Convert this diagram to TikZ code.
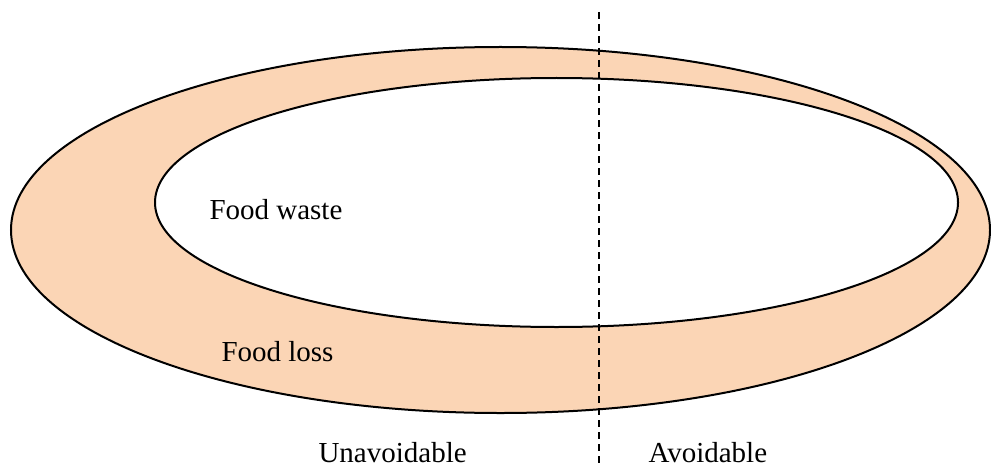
\documentclass[tikz,border=0pt]{standalone}
\usepackage{fontspec}
\setmainfont{Liberation Serif}
\usepackage{tikz}
\usetikzlibrary{positioning}
\definecolor{lossfill}{RGB}{251,213,181}

\begin{document}
\begin{tikzpicture}[x=0.4pt, y=-0.4pt]
                \tikzstyle{outline} = [line width=0.8pt, draw=black]
                \tikzstyle{divider} = [line width=0.6pt, dash pattern=on 2.8pt off 2pt]
                \tikzstyle{label} = [inner sep=0pt, anchor=base west, font=\fontsize{11.6}{14}\selectfont]
                \useasboundingbox (0,0) rectangle (991,466);

                % loss ring and waste core
                \draw [outline, fill=lossfill] (500.5,230) ellipse [x radius=489.5, y radius=183];
                \draw [outline, fill=white] (556.5,202.5) ellipse [x radius=401.5, y radius=124.5];

                \coordinate (dividertop) at (599,12);
                \coordinate (dividerbottom) at (599,466);
                \draw [divider] (dividertop) -- (dividerbottom);

                \node (waste) [label] at (209,219) {Food waste};
                \node (loss) [label] at (221,361) {Food loss};
                \node (unavoidable) [label] at (318,462) {Unavoidable};
                \node (avoidable) [label] at (648,462) {Avoidable};
            \end{tikzpicture}
\end{document}
